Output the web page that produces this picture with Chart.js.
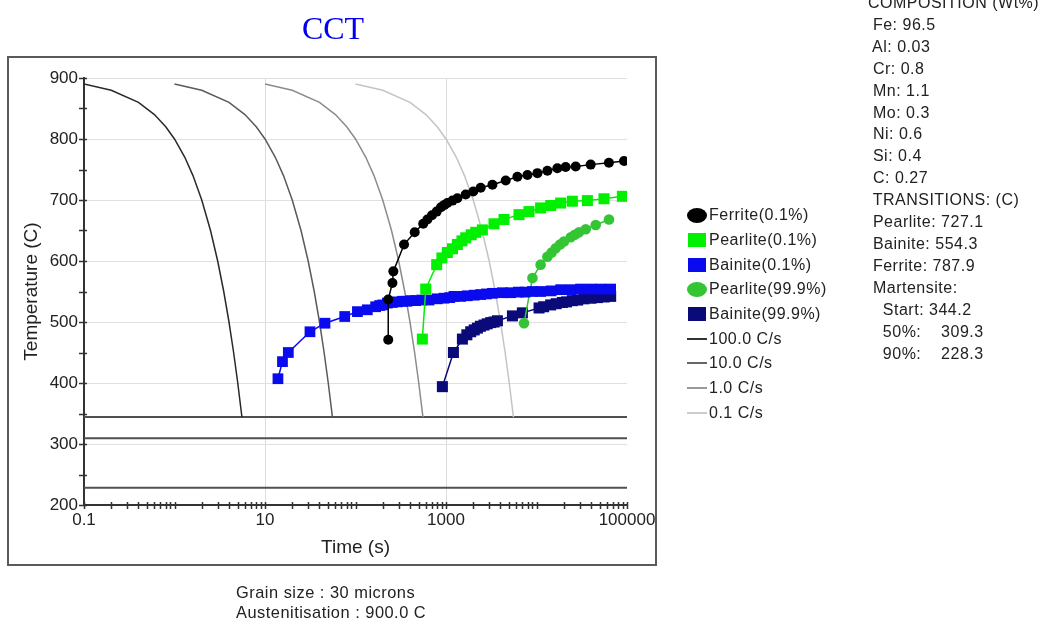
<!DOCTYPE html>
<html>
<head>
<meta charset="utf-8">
<script src="https://cdn.jsdelivr.net/npm/chart.js@4.4.0/dist/chart.umd.min.js"></script>
<style>
html,body{margin:0;padding:0;background:#fff;}
#wrap{position:relative;width:1045px;height:624px;overflow:hidden;font-family:"Liberation Sans",Arial,sans-serif;color:#222;}
#frame{position:absolute;left:7px;top:56px;width:646px;height:506px;border:2px solid #5a5a5a;box-sizing:content-box;}
#c{position:absolute;left:0;top:0;}
#title{position:absolute;left:233px;width:200px;top:8px;text-align:center;font-family:"Liberation Serif","Times New Roman",serif;font-size:32px;line-height:40px;color:#0000ee;}
.txt{font-size:16px;letter-spacing:0.5px;}
#comp{position:absolute;left:868px;top:-8px;line-height:21.9px;white-space:pre;}
#legend{position:absolute;left:687px;top:203px;}
.li{height:24.7px;display:flex;align-items:center;white-space:nowrap;}
.mkbox{width:20px;height:20px;margin-right:2px;display:flex;align-items:center;justify-content:center;}
#notes{position:absolute;left:236px;top:582px;line-height:20px;white-space:pre;font-size:16.4px;}
</style>
</head>
<body>
<div id="wrap">
  <div id="frame"></div>
  <canvas id="c" width="1045" height="624"></canvas>
  <div id="title">CCT</div>
  <div id="legend" class="txt"></div>
  <div id="comp" class="txt"></div>
  <div id="notes" class="txt"></div>
</div>
<script>
// ---------------- data ----------------
const xMin = 0.1, xMax = 100000;
const xLabelValues = [0.1, 10, 1000, 100000];
const xTickLabels = ['0.1', '10', '1000', '100000'];
const yTickValues = [200, 250, 300, 350, 400, 450, 500, 550, 600, 650, 700, 750, 800, 850, 900];
const yTickLabels = ['200', '', '300', '', '400', '', '500', '', '600', '', '700', '', '800', '', '900'];

// cooling curves (time s, temperature C)
const coolRateLabels = ['100.0 C/s', '10.0 C/s', '1.0 C/s', '0.1 C/s'];
const coolTemp = [890, 880, 860, 840, 820, 800, 770, 740, 700, 650, 600, 550, 500, 450, 400, 344.2];
const cool100Time = [0.1, 0.2, 0.4, 0.6, 0.8, 1.0, 1.3, 1.6, 2.0, 2.5, 3.0, 3.5, 4.0, 4.5, 5.0, 5.56];
const cool10Time = [1, 2, 4, 6, 8, 10, 13, 16, 20, 25, 30, 35, 40, 45, 50, 55.6];
const cool1Time = [10, 20, 40, 60, 80, 100, 130, 160, 200, 250, 300, 350, 400, 450, 500, 556];
const cool01Time = [100, 200, 400, 600, 800, 1000, 1300, 1600, 2000, 2500, 3000, 3500, 4000, 4500, 5000, 5560];

// martensite lines
const martensiteTemps = [344.2, 309.3, 228.3];

// Ferrite (0.1%)
const ferriteTime = [230, 230, 256, 262, 344, 451, 560, 622, 700, 789, 880, 960, 1035, 1180, 1336, 1651, 2000, 2417, 3258, 4570, 6150, 7940, 10240, 13200, 17000, 21000, 27100, 39700, 63100, 92700];
const ferriteTemp = [471, 537, 564, 583, 627, 647, 661, 668, 675, 681, 688, 692, 695, 699, 703, 709, 714, 720, 725, 732, 738, 741, 744, 748, 752, 754, 755, 758, 761, 764];
// Pearlite (0.1%)
const pearliteTime = [548, 597, 789, 900, 1035, 1180, 1336, 1500, 1651, 1900, 2128, 2523, 3390, 4375, 6410, 8260, 11100, 14350, 18500, 24900, 36500, 55700, 88900];
const pearliteTemp = [472, 554, 594, 605, 614, 620, 627, 633, 638, 643, 647, 651, 661, 668, 676, 681, 687, 691, 695, 698, 699, 702, 706];
// Bainite (0.1%)
const bainiteTime = [13.9, 15.6, 18.1, 31.4, 46, 76, 105, 135, 167, 185, 200, 225, 255, 290, 330, 370, 410, 462, 540, 649, 800, 950, 1100, 1225, 1450, 1720, 2050, 2415, 2800, 3257, 4200, 5190, 6300, 7500, 9000, 11100, 14500, 18500, 24000, 30700, 40000, 51100, 65900];
const bainiteTemp = [407, 435, 450, 484, 498, 509, 517, 520, 525, 527, 528, 531, 532, 533, 534, 534, 535, 535, 536, 536, 538, 539, 540, 542, 542, 543, 544, 545, 546, 547, 548, 548, 549, 549, 550, 550, 551, 553, 553, 554, 554, 554, 554];
// Pearlite (99.9%)
const pearlite999Time = [7280, 9020, 11100, 13180, 14700, 16300, 18200, 20100, 23900, 26500, 29500, 35000, 45100, 63200];
const pearlite999Temp = [498, 572, 594, 607, 614, 621, 627, 632, 639, 643, 647, 652, 659, 668];
// Bainite (99.9%)
const bainite999Time = [912, 1208, 1518, 1700, 1875, 2050, 2222, 2400, 2630, 2850, 3120, 3400, 3700, 5420, 6980, 10670, 12000, 14350, 16500, 19300, 21500, 24900, 28500, 33500, 40000, 47100, 56000, 66000];
const bainite999Temp = [394, 450, 472, 479, 484, 487, 490, 493, 495, 497, 499, 500, 502, 510, 515, 523, 525, 528, 530, 532, 533, 535, 536, 538, 539, 540, 541, 542];

const compositionLines = ['COMPOSITION (Wt%)', ' Fe: 96.5', ' Al: 0.03', ' Cr: 0.8', ' Mn: 1.1', ' Mo: 0.3', ' Ni: 0.6', ' Si: 0.4', ' C: 0.27',
  ' TRANSITIONS: (C)', ' Pearlite: 727.1', ' Bainite: 554.3', ' Ferrite: 787.9', ' Martensite:', '   Start: 344.2', '   50%:    309.3', '   90%:    228.3'];
const noteLines = ['Grain size : 30 microns', 'Austenitisation : 900.0 C'];

// ---------------- build datasets ----------------
function pts(times, temps) { return times.map((t, i) => ({ x: t, y: temps[i] })); }
function markerSeries(label, times, temps, color, style, radius) {
  return { label, data: pts(times, temps), showLine: true, borderColor: color, backgroundColor: color,
    pointBackgroundColor: color, pointBorderColor: color, pointBorderWidth: 0, pointStyle: style,
    pointRadius: radius, borderWidth: 1.5, tension: 0, order: 0, inLegend: true, legendShape: style };
}
function lineSeries(label, times, temps, color, order, inLegend, width) {
  return { label, data: pts(times, temps), showLine: true, borderColor: color, backgroundColor: color,
    pointRadius: 0, borderWidth: width, tension: 0, order, inLegend, legendShape: 'line' };
}

const coolColors = ['#2a2a2a', '#5a5a5a', '#8c8c8c', '#c4c4c4'];
const coolTimes = [cool100Time, cool10Time, cool1Time, cool01Time];

const datasets = [
  markerSeries('Ferrite(0.1%)', ferriteTime, ferriteTemp, '#000000', 'circle', 5),
  markerSeries('Pearlite(0.1%)', pearliteTime, pearliteTemp, '#00f000', 'rect', 7.8),
  markerSeries('Bainite(0.1%)', bainiteTime, bainiteTemp, '#0a0aee', 'rect', 7.6),
  markerSeries('Pearlite(99.9%)', pearlite999Time, pearlite999Temp, '#33c533', 'circle', 5.3),
  markerSeries('Bainite(99.9%)', bainite999Time, bainite999Temp, '#0a0a78', 'rect', 7.8),
];
coolRateLabels.forEach((lab, i) => datasets.push(lineSeries(lab, coolTimes[i], coolTemp, coolColors[i], 1, true, 1.5)));
martensiteTemps.forEach((T, i) => datasets.push(lineSeries('Ms' + i, [xMin, xMax], [T, T], '#505050', 2, false, 2)));

const crossTicks = {
  id: 'crossTicks',
  afterDraw(chart) {
    const { ctx } = chart;
    const xs = chart.scales.x, ys = chart.scales.y;
    ctx.save();
    ctx.strokeStyle = '#333';
    ctx.lineWidth = 1.5;
    ctx.beginPath();
    xs.ticks.forEach(t => {
      const px = Math.round(xs.getPixelForValue(t.value)) + 0.5;
      ctx.moveTo(px, ys.bottom - 3); ctx.lineTo(px, ys.bottom + 4);
    });
    ys.ticks.forEach(t => {
      const py = Math.round(ys.getPixelForValue(t.value)) + 0.5;
      ctx.moveTo(xs.left - 5, py); ctx.lineTo(xs.left + 3, py);
    });
    ctx.stroke();
    ctx.restore();
  }
};

const near = (a, b) => Math.abs(Math.log10(a) - Math.log10(b)) < 1e-6;
const fontFam = '"Liberation Sans", Arial, sans-serif';

const chart = new Chart(document.getElementById('c'), {
  type: 'scatter',
  data: { datasets },
  options: {
    responsive: false, animation: false, devicePixelRatio: 1, events: [],
    layout: { padding: { left: 16, top: 78, right: 418, bottom: 61 } },
    plugins: { legend: { display: false }, tooltip: { enabled: false }, title: { display: false } },
    scales: {
      x: {
        type: 'logarithmic', min: xMin, max: xMax,
        afterBuildTicks: (scale) => {
          const vals = [];
          for (let d = -1; d <= 4; d++) for (let m = 1; m <= 9; m++) vals.push(m * Math.pow(10, d));
          vals.push(xMax);
          scale.ticks = vals.map(v => ({ value: v }));
        },
        afterFit: (scale) => { scale.height = 58; },
        ticks: {
          autoSkip: false, maxRotation: 0, minRotation: 0, padding: 5, color: '#222',
          font: { family: fontFam, size: 17 },
          callback: (v) => { const i = xLabelValues.findIndex(a => near(a, v)); return i >= 0 ? xTickLabels[i] : ''; }
        },
        grid: { drawTicks: false, lineWidth: 1,
          color: (c) => (c.tick && (near(c.tick.value, 10) || near(c.tick.value, 1000))) ? '#dcdcdc' : 'rgba(0,0,0,0)' },
        border: { display: true, color: '#333', width: 2 },
        title: { display: true, text: 'Time (s)', color: '#222', font: { family: fontFam, size: 19 } }
      },
      y: {
        type: 'linear', min: 200, max: 900,
        afterBuildTicks: (scale) => { scale.ticks = yTickValues.map(v => ({ value: v })); },
        afterFit: (scale) => { scale.width = 68; },
        ticks: {
          padding: 6, color: '#222', font: { family: fontFam, size: 17 },
          callback: (v) => { const i = yTickValues.indexOf(v); return i >= 0 ? yTickLabels[i] : ''; }
        },
        grid: { drawTicks: false, lineWidth: 1,
          color: (c) => (c.tick && c.tick.value % 100 === 0 && c.tick.value > 200) ? '#e0e0e0' : 'rgba(0,0,0,0)' },
        border: { display: true, color: '#333', width: 2 },
        title: { display: true, text: 'Temperature (C)', color: '#222', font: { family: fontFam, size: 19 } }
      }
    }
  },
  plugins: [crossTicks]
});

// ---------------- HTML legend from the datasets ----------------
const legendColors = { '100.0 C/s': '#333', '10.0 C/s': '#666', '1.0 C/s': '#999', '0.1 C/s': '#ccc' };
const legendEl = document.getElementById('legend');
chart.data.datasets.filter(d => d.inLegend).forEach(d => {
  const row = document.createElement('div'); row.className = 'li';
  const box = document.createElement('span'); box.className = 'mkbox';
  const mk = document.createElement('span');
  if (d.legendShape === 'circle') { mk.style.cssText = `width:20px;height:15px;border-radius:50%;background:${d.borderColor};display:block;`; }
  else if (d.legendShape === 'rect') { mk.style.cssText = `width:18px;height:14px;background:${d.borderColor};display:block;`; }
  else { mk.style.cssText = `width:20px;height:2px;background:${legendColors[d.label]};display:block;`; }
  box.appendChild(mk);
  const tx = document.createElement('span'); tx.textContent = d.label;
  row.appendChild(box); row.appendChild(tx);
  legendEl.appendChild(row);
});
document.getElementById('comp').textContent = compositionLines.join('\n');
document.getElementById('notes').textContent = noteLines.join('\n');
</script>
</body>
</html>
